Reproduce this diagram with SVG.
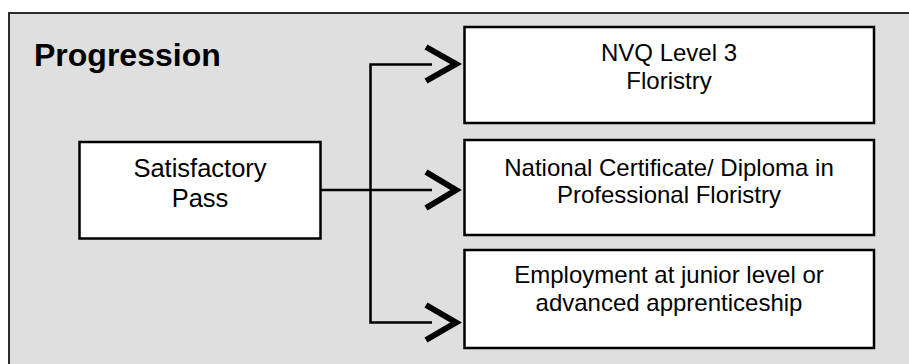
<svg xmlns="http://www.w3.org/2000/svg" width="909" height="364" viewBox="0 0 909 364">
<style>
.frame{fill:#dfdfdf;stroke:#2b2b2b;stroke-width:2}
.box{fill:#ffffff;stroke:#000;stroke-width:2.5}
.t{font-family:"Liberation Sans",Arial,sans-serif;font-size:24px;fill:#000;text-anchor:middle}
.title{font-family:"Liberation Sans",Arial,sans-serif;font-size:32px;font-weight:bold;fill:#000}
.ln{fill:none;stroke:#000;stroke-width:2.5}
.chev{fill:none;stroke:#000;stroke-width:6;stroke-linejoin:miter;stroke-miterlimit:10}
</style>
<rect class="frame" x="9" y="13" width="920" height="370"/>
<text class="title" x="34" y="66">Progression</text>
<g id="connectors">
<polyline class="ln" points="432,64.5 370.5,64.5 370.5,322.5 432,322.5"/>
<line class="ln" x1="321" y1="190" x2="432" y2="190"/>
<polyline class="chev" points="426,47 456,64 426,81"/>
<polyline class="chev" points="426,172 456,190 426,208"/>
<polyline class="chev" points="426,305 456,322.5 426,340"/>
</g>
<g id="satisfactory">
<rect class="box" x="79.5" y="142" width="241" height="96.5"/>
<text class="t" x="200" y="177" style="font-size:25.5px">Satisfactory</text>
<text class="t" x="200" y="207" style="font-size:25.5px">Pass</text>
</g>
<g id="nvq">
<rect class="box" x="464.5" y="27" width="409.5" height="96"/>
<text class="t" x="669" y="60.5">NVQ Level 3</text>
<text class="t" x="669" y="88.5">Floristry</text>
</g>
<g id="national">
<rect class="box" x="464.5" y="140" width="409.5" height="95"/>
<text class="t" x="669" y="176">National Certificate/ Diploma in</text>
<text class="t" x="669" y="203">Professional Floristry</text>
</g>
<g id="employment">
<rect class="box" x="464.5" y="250" width="409.5" height="98"/>
<text class="t" x="669" y="283">Employment at junior level or</text>
<text class="t" x="669" y="311">advanced apprenticeship</text>
</g>
</svg>
